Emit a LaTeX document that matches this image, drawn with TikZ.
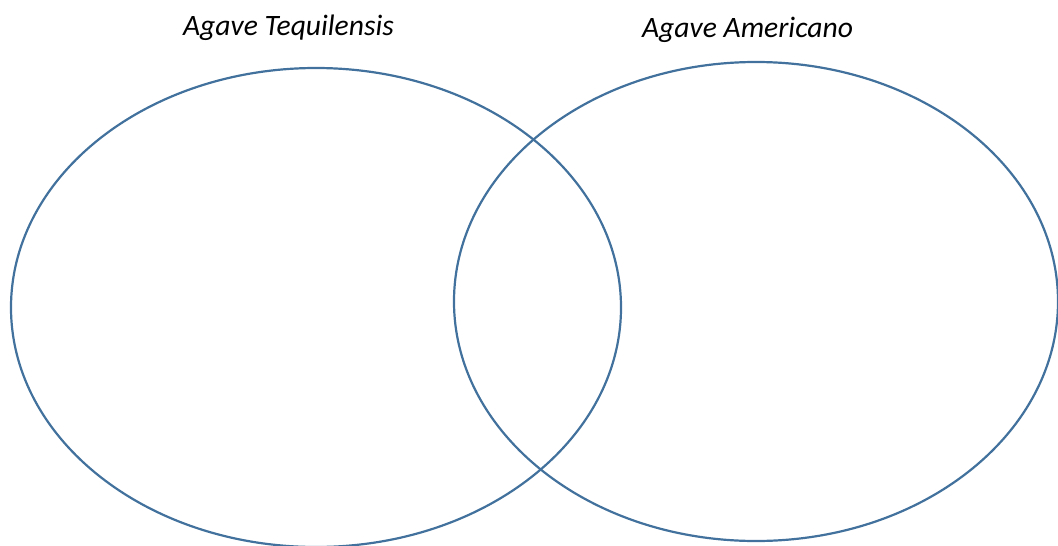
\documentclass[tikz,border=0pt]{standalone}
\usepackage{fontspec}
\setmainfont{Carlito}
\definecolor{vennblue}{RGB}{65,113,156}
\begin{document}
\begin{tikzpicture}[x=1pt,y=1pt,
  venn/.style={draw=vennblue,line width=2.2pt},
  lbl/.style={font=\fontsize{29.6}{34}\selectfont\itshape,anchor=base,inner sep=0pt}]
\useasboundingbox (0,0) rectangle (1058,-546);
\draw[venn] (316,-307.5) ellipse [x radius=305, y radius=239.5];
\draw[venn] (756,-301.5) ellipse [x radius=302, y radius=239.5];
\node[lbl] (t1) at (288.5,-35) {Agave Tequilensis};
\node[lbl] (t2) at (747.5,-37.5) {Agave Americano};
\end{tikzpicture}
\end{document}
